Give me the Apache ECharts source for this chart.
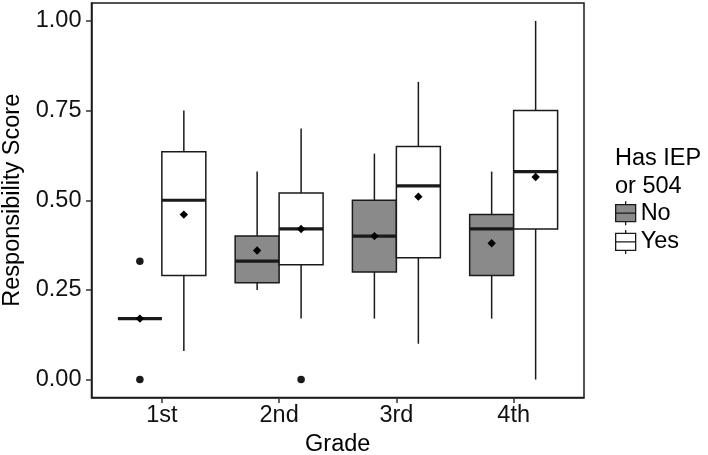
<!DOCTYPE html>
<html>
<head>
<meta charset="utf-8">
<script src="https://cdn.jsdelivr.net/npm/echarts@6/dist/echarts.min.js"></script>
<style>
html,body{margin:0;padding:0;background:#fff;}
#chart{width:708px;height:455px;}
</style>
</head>
<body>
<div id="chart"></div>
<script>
// ---- data ----
const categories = ['1st', '2nd', '3rd', '4th'];
const yTicks = [0, 0.25, 0.5, 0.75, 1.0];
// [min, q1, median, q3, max]
const noStats = [
  [0.17, 0.17, 0.17, 0.17, 0.17],
  [0.25, 0.27, 0.33, 0.40, 0.58],
  [0.17, 0.30, 0.40, 0.50, 0.63],
  [0.17, 0.29, 0.42, 0.46, 0.58]
];
const yesStats = [
  [0.08, 0.29, 0.50, 0.635, 0.75],
  [0.17, 0.32, 0.42, 0.52, 0.70],
  [0.10, 0.34, 0.54, 0.65, 0.83],
  [0.00, 0.42, 0.58, 0.75, 1.00]
];
const noMeans = [0.17, 0.36, 0.40, 0.38];
const yesMeans = [0.46, 0.42, 0.51, 0.565];
// [category index, value]
const noOutliers = [[0, 0.33], [0, 0.0]];
const yesOutliers = [[1, 0.0]];

// ---- styling ----
const FONT = 'Liberation Sans, Arial, sans-serif';
const FS = 23.5;
const INK = '#1a1a1a';
const NO_FILL = '#8a8a8a';
const YES_FILL = '#ffffff';
const DODGE = 0.1875;   // half of dodge width in category units
const HALF_BOX = 0.1875;

function rows(stats, means) {
  return stats.map((s, i) => [i + 1].concat(s, [means[i]]));
}

function boxRenderer(offset, fill) {
  return function (params, api) {
    const x = api.value(0) + offset;
    const half = api.size([HALF_BOX, 0])[0];
    const pMin = api.coord([x, api.value(1)]);
    const pQ1 = api.coord([x, api.value(2)]);
    const pMed = api.coord([x, api.value(3)]);
    const pQ3 = api.coord([x, api.value(4)]);
    const pMax = api.coord([x, api.value(5)]);
    const pMean = api.coord([x, api.value(6)]);
    const cx = pMed[0];
    const d = 4.2;
    return {
      type: 'group',
      children: [
        { type: 'line', shape: { x1: cx, y1: pQ3[1], x2: cx, y2: pMax[1] }, style: { stroke: INK, lineWidth: 1.5 } },
        { type: 'line', shape: { x1: cx, y1: pQ1[1], x2: cx, y2: pMin[1] }, style: { stroke: INK, lineWidth: 1.5 } },
        { type: 'rect', shape: { x: cx - half, y: pQ3[1], width: 2 * half, height: pQ1[1] - pQ3[1] },
          style: { fill: fill, stroke: INK, lineWidth: 1.5 } },
        { type: 'line', shape: { x1: cx - half, y1: pMed[1], x2: cx + half, y2: pMed[1] }, style: { stroke: INK, lineWidth: 3.2 } },
        { type: 'polygon', shape: { points: [[pMean[0], pMean[1] - d], [pMean[0] + d, pMean[1]], [pMean[0], pMean[1] + d], [pMean[0] - d, pMean[1]]] },
          style: { fill: '#000' }, z2: 10 }
      ]
    };
  };
}

const legendIcon = 'path://M10,0V3.5 M0,3.5H20V20.5H0Z M0,12H20 M10,20.5V24';

const chart = echarts.init(document.getElementById('chart'), null, { renderer: 'canvas' });
chart.setOption({
  animation: false,
  backgroundColor: '#fff',
  textStyle: { fontFamily: FONT },
  title: {
    text: 'Has IEP\nor 504',
    left: 615,
    top: 145,
    padding: 0,
    textStyle: { fontFamily: FONT, fontSize: FS, fontWeight: 'normal', color: '#000', lineHeight: 28 }
  },
  legend: {
    orient: 'vertical',
    left: 615,
    top: 200.5,
    padding: 0,
    itemWidth: 20,
    itemHeight: 24,
    itemGap: 3.5,
    selectedMode: false,
    textStyle: { fontFamily: FONT, fontSize: FS, color: '#000' },
    data: [
      { name: 'No', icon: legendIcon, itemStyle: { color: NO_FILL, borderColor: INK, borderWidth: 1.3 } },
      { name: 'Yes', icon: legendIcon, itemStyle: { color: YES_FILL, borderColor: INK, borderWidth: 1.3 } }
    ]
  },
  grid: {
    left: 91.5, right: 124, top: 3, bottom: 57.5,
    outerBoundsMode: 'none',
    containLabel: false,
    show: true, borderColor: INK, borderWidth: 1.5, backgroundColor: '#fff'
  },
  xAxis: {
    type: 'value',
    min: 0.4,
    max: 4.6,
    name: 'Grade',
    nameLocation: 'middle',
    nameGap: 34,
    nameTextStyle: { fontFamily: FONT, fontSize: FS, color: '#000' },
    axisLine: { show: true, onZero: false, lineStyle: { color: INK, width: 1.5 } },
    splitLine: { show: false },
    axisTick: { show: true, inside: false, length: 5.5, lineStyle: { color: '#333', width: 1.5 }, customValues: [1, 2, 3, 4] },
    axisLabel: {
      customValues: [1, 2, 3, 4],
      margin: 6,
      fontFamily: FONT, fontSize: FS, color: '#111',
      formatter: v => categories[Math.round(v) - 1]
    }
  },
  yAxis: {
    type: 'value',
    min: -0.05,
    max: 1.05,
    name: 'Responsibility Score',
    nameLocation: 'middle',
    nameGap: 64,
    nameTextStyle: { fontFamily: FONT, fontSize: FS, color: '#000' },
    axisLine: { show: true, onZero: false, lineStyle: { color: INK, width: 1.5 } },
    splitLine: { show: false },
    axisTick: { show: true, inside: false, length: 5.5, lineStyle: { color: '#333', width: 1.5 }, customValues: yTicks },
    axisLabel: {
      customValues: yTicks,
      margin: 10,
      fontFamily: FONT, fontSize: FS, color: '#111',
      formatter: v => Number(v).toFixed(2)
    }
  },
  series: [
    {
      name: 'No', type: 'custom',
      itemStyle: { color: NO_FILL },
      renderItem: boxRenderer(-DODGE, NO_FILL),
      encode: { x: 0, y: [1, 2, 3, 4, 5, 6] },
      data: rows(noStats, noMeans)
    },
    {
      name: 'Yes', type: 'custom',
      itemStyle: { color: YES_FILL },
      renderItem: boxRenderer(DODGE, YES_FILL),
      encode: { x: 0, y: [1, 2, 3, 4, 5, 6] },
      data: rows(yesStats, yesMeans)
    },
    {
      name: 'No outliers', type: 'scatter',
      symbol: 'circle', symbolSize: 7.5,
      itemStyle: { color: INK, opacity: 1 },
      data: noOutliers.map(o => [o[0] + 1 - DODGE, o[1]])
    },
    {
      name: 'Yes outliers', type: 'scatter',
      symbol: 'circle', symbolSize: 7.5,
      itemStyle: { color: INK, opacity: 1 },
      data: yesOutliers.map(o => [o[0] + 1 + DODGE, o[1]])
    }
  ]
});
</script>
</body>
</html>
